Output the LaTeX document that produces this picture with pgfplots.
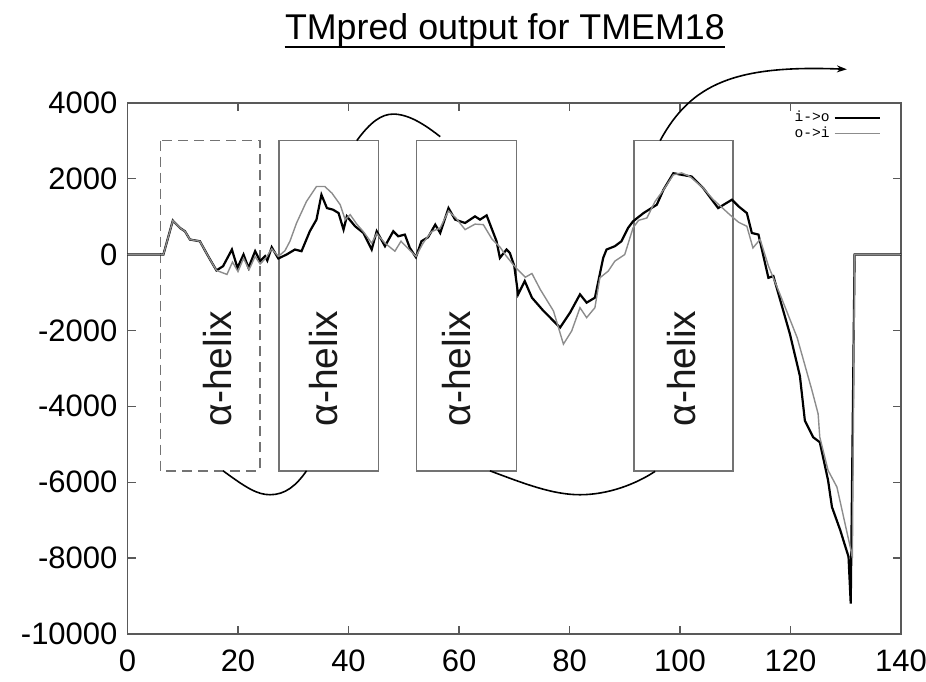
\documentclass[border=0pt]{standalone}
\usepackage{fontspec}
\setmainfont{Liberation Sans}
\newfontfamily\legfont{Liberation Mono}
\usepackage{pgfplots}
\pgfplotsset{compat=1.18}
\usetikzlibrary{arrows.meta}

\pgfplotstableread{
x y
0 0
6.5 0
8.2 893
9.5 700
10.4 612
11.3 394
13.1 349
14.6 -45
16.1 -420
17.3 -307
18.9 131
19.9 -352
21.0 0
21.9 -352
23.1 87
24.0 -176
24.9 -45
25.3 -157
26.1 192
27.3 -105
28.8 0
30.3 131
31.5 87
33.0 612
34.2 919
35.1 1575
36.1 1223
37.2 1181
38.2 1092
39.1 656
39.7 1005
41.2 743
42.7 567
44.2 131
45.1 612
46.6 218
48.1 612
49.0 480
50.2 525
51.1 173
52.2 -71
53.2 349
54.4 454
55.7 787
56.6 567
58.1 1223
59.3 919
61.1 830
62.9 1005
63.8 919
65.0 1031
66.8 349
67.4 -89
68.6 131
69.2 42
70.0 -300
70.7 -1050
71.9 -700
73.2 -1138
75.3 -1488
77.7 -1838
78.3 -1925
80.1 -1532
81.9 -1050
83.1 -1269
84.6 -1138
86.1 -89
86.7 131
88.2 218
89.4 349
90.6 700
91.5 874
93.4 1092
95.8 1312
97.0 1706
98.8 2142
100.3 2100
102.1 2055
104.2 1750
106.9 1223
109.4 1444
110.6 1268
112.1 1092
113.0 567
114.2 525
116.0 -614
116.9 -569
119.9 -2100
121.7 -3200
122.6 -4376
124.1 -4814
125.3 -4945
126.8 -5951
127.5 -6652
129.0 -7263
130.5 -7964
130.9 -9200
131.6 0
140 0
}\iotable

\pgfplotstableread{
x y
0 0
6.5 0
8.2 893
9.5 700
10.4 612
11.3 394
13.1 349
14.6 -45
16.1 -420
18.0 -525
19.0 -200
20.0 -450
21.0 -100
22.0 -400
23.1 -50
24.0 -250
25.0 -100
26.1 150
27.3 -50
28.5 100
29.4 349
30.6 830
32.4 1400
34.2 1793
35.7 1793
37.0 1617
38.5 1312
39.4 919
40.3 1050
41.5 800
42.7 600
44.2 300
45.1 550
46.6 300
48.4 87
49.5 350
50.5 200
52.2 -50
53.5 300
55.0 600
56.6 700
58.1 1150
59.5 950
61.1 656
62.9 800
64.4 787
66.0 400
67.4 200
68.6 -50
70.0 -300
70.9 -438
72.0 -600
73.2 -500
74.7 -919
77.1 -1488
78.9 -2362
80.4 -2013
81.9 -1401
83.1 -1664
84.6 -1401
85.5 -614
87.0 -438
88.2 -176
90.0 0
91.5 700
92.5 900
94.0 962
95.5 1400
97.0 1700
98.8 2100
100.3 2150
101.8 2055
104.2 1750
106.0 1450
109.0 1050
110.6 850
112.1 743
113.2 173
114.5 400
116.0 -300
118.1 -1050
121.2 -2189
123.9 -3588
125.0 -4200
125.3 -4814
126.8 -5688
128.4 -6127
130.8 -7700
131.2 -8000
131.6 0
140 0
}\oitable

\begin{document}
\begin{tikzpicture}
\useasboundingbox (-63.75bp,-24bp) rectangle (399.25bp,317bp);
\begin{axis}[
  at={(0,0)}, anchor=south west,
  scale only axis, width=386.75bp, height=265.65bp,
  xmin=0, xmax=140, ymin=-10000, ymax=4000,
  scaled y ticks=false, scaled x ticks=false,
  xtick={0,20,...,140}, xticklabels={0,20,40,60,80,100,120,140},
  ytick={-10000,-8000,...,4000},
  yticklabels={-10000,-8000,-6000,-4000,-2000,0,2000,4000},
  tick label style={font=\fontsize{15.5bp}{18bp}\selectfont},
  xticklabel style={yshift=-4.2bp},
  yticklabel style={xshift=-1.5bp},
  axis line style={draw=black!65, line width=0.9bp},
  tick style={draw=black!65, line width=0.7bp},
  major tick length=4bp,
  clip=false,
  legend plot pos=right,
  legend cell align=right,
  legend image code/.code={\draw[#1] (0bp,0bp) -- (22.5bp,0bp);},
  legend style={draw=none, fill=none, at={(0.977,0.996)}, anchor=north east,
    font=\legfont\fontsize{7.3bp}{8bp}\selectfont, row sep=-3bp, inner sep=1bp},
]
% helix boxes
\draw[black!55, line width=0.7bp, dash pattern=on 5bp off 3bp] (axis cs:6.0,3000) rectangle (axis cs:24.0,-5700);
\draw[black!55, line width=0.7bp] (axis cs:27.4,3000) rectangle (axis cs:45.4,-5700);
\draw[black!55, line width=0.7bp] (axis cs:52.3,3000) rectangle (axis cs:70.4,-5700);
\draw[black!55, line width=0.7bp] (axis cs:91.7,3000) rectangle (axis cs:109.6,-5700);
\node[rotate=90, font=\fontsize{19.5bp}{22bp}\selectfont, black!90] at (axis cs:16.3,-3000) {α-helix};
\node[rotate=90, font=\fontsize{19.5bp}{22bp}\selectfont, black!90] at (axis cs:35.4,-3000) {α-helix};
\node[rotate=90, font=\fontsize{19.5bp}{22bp}\selectfont, black!90] at (axis cs:59.6,-3000) {α-helix};
\node[rotate=90, font=\fontsize{19.5bp}{22bp}\selectfont, black!90] at (axis cs:100.2,-3000) {α-helix};
% connectors
\draw[line width=0.8bp] (axis cs:17.3,-5700) .. controls (axis cs:21.5,-6150) and (axis cs:23.5,-6330) .. (axis cs:25.8,-6330) .. controls (axis cs:28.5,-6330) and (axis cs:30.5,-6100) .. (axis cs:32.4,-5700);
\draw[line width=0.8bp] (axis cs:41.5,3000) .. controls (axis cs:44,3500) and (axis cs:46,3700) .. (axis cs:48.1,3700) .. controls (axis cs:51,3700) and (axis cs:54,3400) .. (axis cs:56.6,3105);
\draw[line width=0.8bp] (axis cs:65.6,-5700) .. controls (axis cs:72,-6050) and (axis cs:77,-6330) .. (axis cs:81.9,-6330) .. controls (axis cs:87,-6330) and (axis cs:92,-6050) .. (axis cs:95.5,-5714);
\draw[line width=0.8bp, -{Stealth[length=5bp,width=3.5bp]}] (axis cs:96.4,3000) .. controls (axis cs:102,4500) and (axis cs:110,5000) .. (axis cs:130.2,4880);
% data
\addplot[black, line width=1.1bp] table {\iotable};
\addlegendentry{i->o}
\addplot[black!45, line width=0.7bp] table {\oitable};
\addlegendentry{o->i}
% title
\node[anchor=base, inner sep=0pt, font=\fontsize{17.9bp}{21bp}\selectfont] (ttl) at (axis cs:68.3,4000) [yshift=31.35bp] {TMpred output for TMEM18};
\draw[line width=1bp] ([yshift=-3.3bp]ttl.base west) -- ([yshift=-3.3bp]ttl.base east);
\end{axis}
\end{tikzpicture}
\end{document}
